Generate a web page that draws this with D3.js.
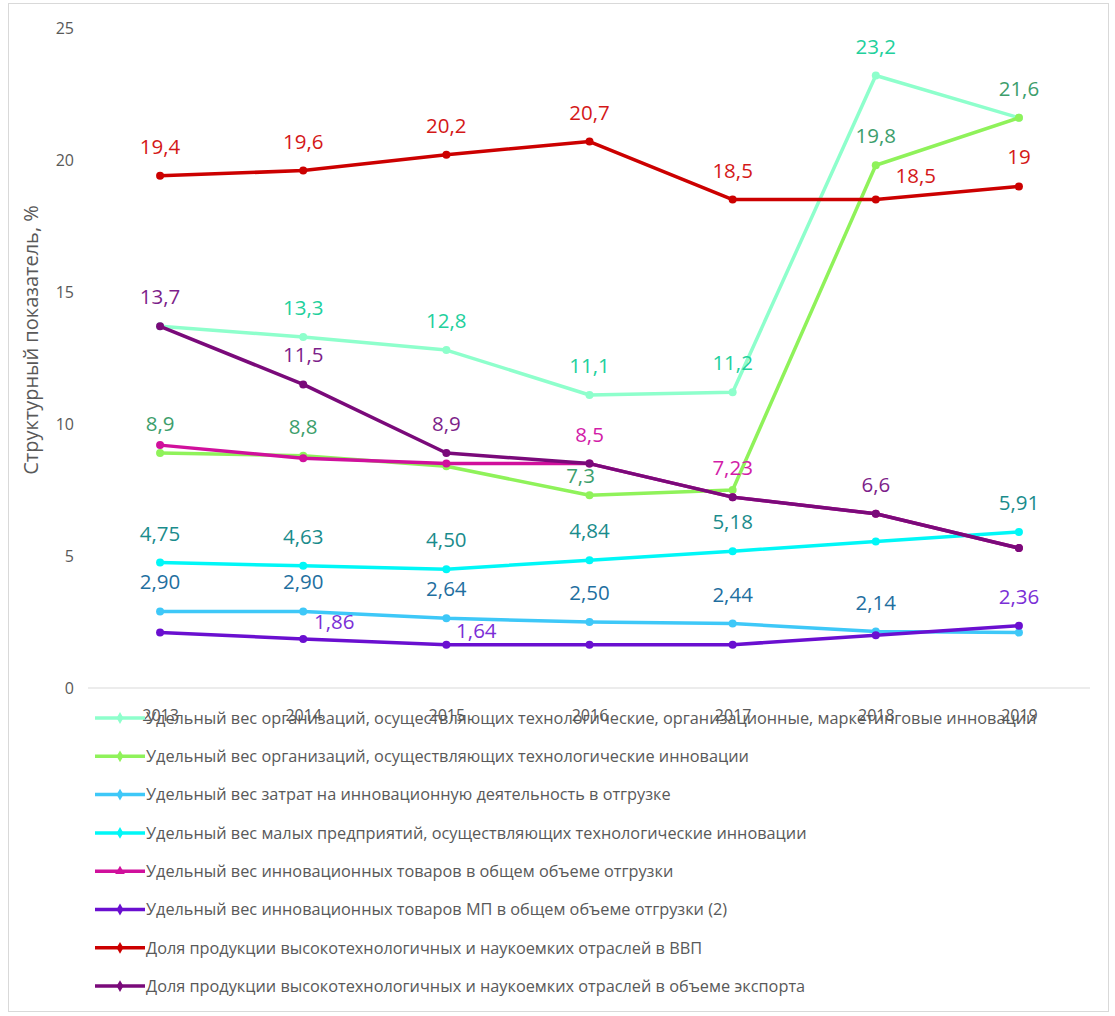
<!DOCTYPE html>
<html>
<head>
<meta charset="utf-8">
<script src="https://cdn.jsdelivr.net/npm/d3@7"></script>
<style>
  html, body { margin: 0; padding: 0; background: #fff; }
  svg { display: block; }
</style>
</head>
<body>
<svg id="chart" width="1115" height="1016"></svg>
<script>
// ---------- DATA ----------
const years = ["2013", "2014", "2015", "2016", "2017", "2018", "2019"];
const yTicks = [0, 5, 10, 15, 20, 25];
const yTitle = "Структурный показатель, %";

const seriesNames = [
  "Удельный вес организаций, осуществляющих технологические, организационные, маркетинговые инновации",
  "Удельный вес организаций, осуществляющих технологические инновации",
  "Удельный вес затрат на инновационную деятельность в отгрузке",
  "Удельный вес малых предприятий, осуществляющих технологические инновации",
  "Удельный вес инновационных товаров в общем объеме отгрузки",
  "Удельный вес инновационных товаров МП в общем объеме отгрузки (2)",
  "Доля продукции высокотехнологичных и наукоемких отраслей в ВВП",
  "Доля продукции высокотехнологичных и наукоемких отраслей в объеме экспорта"
];

const orgAllInnov   = [13.7, 13.3, 12.8, 11.1, 11.2, 23.2, 21.6];
const orgTechInnov  = [8.9, 8.8, 8.4, 7.3, 7.5, 19.8, 21.6];
const costShare     = [2.90, 2.90, 2.64, 2.50, 2.44, 2.14, 2.10];
const smallEntInnov = [4.75, 4.63, 4.50, 4.84, 5.18, 5.55, 5.91];
const innovGoods    = [9.2, 8.7, 8.5, 8.5, 7.23, 6.6, 5.3];
const innovGoodsSME = [2.10, 1.86, 1.64, 1.64, 1.64, 2.00, 2.36];
const hiTechGDP     = [19.4, 19.6, 20.2, 20.7, 18.5, 18.5, 19];
const hiTechExport  = [13.7, 11.5, 8.9, 8.5, 7.23, 6.6, 5.3];

// which points carry a data label (indices)
const labelled = [
  [1, 2, 3, 4, 5],
  [0, 1, 3, 5, 6],
  [0, 1, 2, 3, 4, 5],
  [0, 1, 2, 3, 4, 6],
  [3, 4],
  [1, 2, 6],
  [0, 1, 2, 3, 4, 5, 6],
  [0, 1, 2, 5]
];
// 2 = always two decimals, 0 = as is
const labelDecimals = [0, 0, 2, 2, 0, 0, 0, 0];

// ---------- STYLE ----------
const lineColors  = ["#8effcc", "#8ff25a", "#3ec8f8", "#00f7f7", "#d0109c", "#6a0fd0", "#cc0000", "#7a0a7a"];
const labelColors = ["#22d09c", "#3d9e6c", "#1f6f9f", "#1a8c8c", "#d21ca8", "#7b2fd6", "#d41818", "#7d1f8a"];
const labelOffsets = {
  "1-3": [-9, -12], "5-1": [31, -10], "5-2": [30, -7], "6-5": [40, -17]
};

const allSeries = [orgAllInnov, orgTechInnov, costShare, smallEntInnov, innovGoods, innovGoodsSME, hiTechGDP, hiTechExport];

const svg = d3.select("#chart");
const FONT = "'Open Sans', 'Noto Sans', sans-serif";
const TEXT = "#595959";

svg.append("rect")
  .attr("x", 8.5).attr("y", 3.5).attr("width", 1100).attr("height", 1008)
  .attr("fill", "none").attr("stroke", "#d9d9d9").attr("stroke-width", 1);

const x = d3.scalePoint().domain(years).range([88.5, 1090.5]).padding(0.5);
const y = d3.scaleLinear().domain([0, 25]).range([688, 28]);

svg.append("line")
  .attr("x1", 88).attr("x2", 1090).attr("y1", y(0)).attr("y2", y(0))
  .attr("stroke", "#d9d9d9").attr("stroke-width", 1);

const yAxis = svg.append("g").attr("transform", "translate(88,0)")
  .call(d3.axisLeft(y).tickValues(yTicks).tickSize(0).tickPadding(14).tickFormat(d3.format("d")));
yAxis.select(".domain").remove();
yAxis.selectAll("text").attr("font-family", FONT).attr("font-size", 16).attr("fill", TEXT);

svg.append("text")
  .attr("transform", "translate(38,340) rotate(-90)")
  .attr("text-anchor", "middle")
  .attr("font-family", FONT).attr("font-size", 20).attr("fill", TEXT)
  .text(yTitle);

const line = d3.line().x((d, i) => x(years[i])).y(d => y(d));
allSeries.forEach((s, k) => {
  const g = svg.append("g");
  g.append("path").datum(s)
    .attr("d", line)
    .attr("fill", "none").attr("stroke", lineColors[k]).attr("stroke-width", 3.5)
    .attr("stroke-linejoin", "round");
  g.selectAll("circle").data(s).join("circle")
    .attr("cx", (d, i) => x(years[i])).attr("cy", d => y(d)).attr("r", 4)
    .attr("fill", lineColors[k]);
});

allSeries.forEach((s, k) => {
  labelled[k].forEach(i => {
    const v = s[i];
    const off = labelOffsets[k + "-" + i] || [0, -22];
    const txt = (labelDecimals[k] === 2 ? v.toFixed(2) : String(v)).replace(".", ",");
    svg.append("text")
      .attr("x", x(years[i]) + off[0]).attr("y", y(v) + off[1])
      .attr("text-anchor", "middle")
      .attr("font-family", FONT).attr("font-size", 20.5).attr("fill", labelColors[k])
      .text(txt);
  });
});

const xAxis = svg.append("g").attr("transform", "translate(0," + y(0) + ")")
  .call(d3.axisBottom(x).tickSize(0).tickPadding(22));
xAxis.select(".domain").remove();
xAxis.selectAll("text").attr("font-family", FONT).attr("font-size", 16).attr("fill", TEXT);

const legend = svg.append("g");
seriesNames.forEach((name, k) => {
  const ly = 718 + k * 38.3;
  const g = legend.append("g").attr("transform", "translate(0," + ly + ")");
  g.append("line").attr("x1", 95).attr("x2", 145).attr("y1", 0).attr("y2", 0)
    .attr("stroke", lineColors[k]).attr("stroke-width", 3.5);
  g.append("path")
    .attr("transform", "translate(120,0)")
    .attr("d", d3.symbol().type(k === 4 ? d3.symbolTriangle : d3.symbolDiamond).size(40)())
    .attr("fill", lineColors[k]);
  g.append("text").attr("x", 146).attr("y", 0).attr("dy", "0.35em")
    .attr("font-family", FONT).attr("font-size", 16.3).attr("fill", TEXT)
    .text(name);
});
</script>
</body>
</html>
